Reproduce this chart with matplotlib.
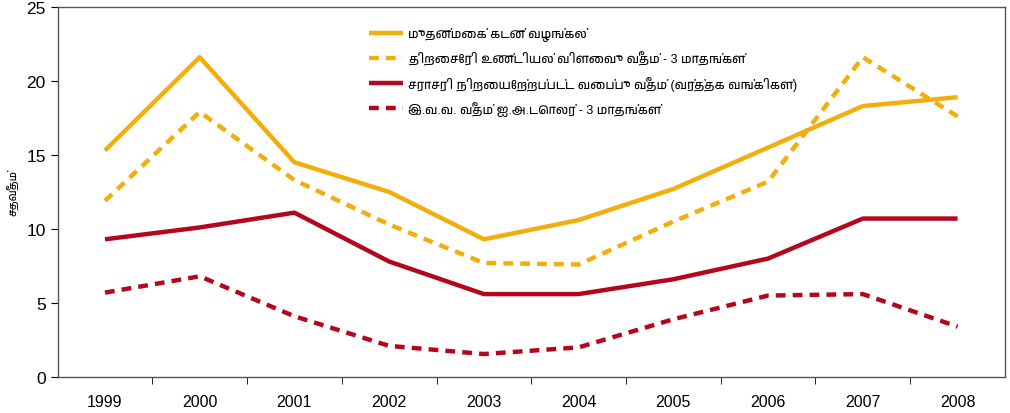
import matplotlib
matplotlib.use('Agg')
import matplotlib.pyplot as plt
from matplotlib import font_manager

years = ["1999", "2000", "2001", "2002", "2003", "2004", "2005", "2006", "2007", "2008"]

prime_lending = [15.3, 21.6, 14.5, 12.5, 9.3, 10.6, 12.7, 15.5, 18.3, 18.9]
tbill_3m = [11.9, 17.9, 13.3, 10.3, 7.7, 7.6, 10.5, 13.2, 21.6, 17.6]
avg_deposit = [9.3, 10.1, 11.1, 7.8, 5.6, 5.6, 6.6, 8.0, 10.7, 10.7]
libor_3m = [5.7, 6.8, 4.1, 2.1, 1.55, 2.0, 3.9, 5.5, 5.6, 3.4]

labels = [
    "முதன்மைக் கடன் வழங்கல்",
    "திறைசேரி உண்டியல் விளைவு வீதம் - 3 மாதங்கள்",
    "சராசரி நிறையேற்றப்பட்ட வைப்பு வீதம் (வர்த்தக வங்கிகள்)",
    "இ.வ.வ. வீதம் ஐ.அ.டொலர் - 3 மாதங்கள்",
]
ylabel = "சதவீதம்"

# look for any installed font that has Tamil glyphs
families = []
for f in font_manager.fontManager.ttflist:
    if "Tamil" in f.name or "Lohit" in f.name or "Latha" in f.name:
        if f.name not in families:
            families.append(f.name)
plt.rcParams['font.family'] = ["Liberation Sans"] + families + ["DejaVu Sans"]

orange = "#F2AE0C"
red = "#B3071F"

fig = plt.figure(figsize=(10.1, 4.14), dpi=100)
ax = fig.add_axes([0.057, 0.087, 0.938, 0.894])

x = range(len(years))
ax.plot(x, prime_lending, color=orange, lw=3.2, solid_capstyle="butt", label=labels[0])
ax.plot(x, tbill_3m, color=orange, lw=3.2, ls=(0, (2.2, 1.6)), label=labels[1])
ax.plot(x, avg_deposit, color=red, lw=3.2, solid_capstyle="butt", label=labels[2])
ax.plot(x, libor_3m, color=red, lw=3.2, ls=(0, (2.2, 1.6)), label=labels[3])

ax.set_xlim(-0.5, len(years) - 0.5)
ax.set_ylim(0, 25)
ax.set_yticks(range(0, 26, 5))
ax.set_xticks(x)
ax.set_xticklabels(years)
ax.set_xticks([i + 0.5 for i in range(len(years) - 1)], minor=True)
ax.tick_params(axis="x", which="major", length=0, pad=12, labelsize=11.5)
ax.tick_params(axis="x", which="minor", length=5, direction="out")
ax.tick_params(axis="y", length=5, direction="out", labelsize=12.5)
ax.set_ylabel(ylabel, fontsize=8, labelpad=6)

for s in ax.spines.values():
    s.set_color("#555555")
    s.set_linewidth(1.0)

ax.legend(loc="upper left", bbox_to_anchor=(0.317, 0.975), frameon=False,
          fontsize=9, handlelength=2.7, labelspacing=0.8, handletextpad=0.4)

fig.savefig("out.png", dpi=100, facecolor="white")
